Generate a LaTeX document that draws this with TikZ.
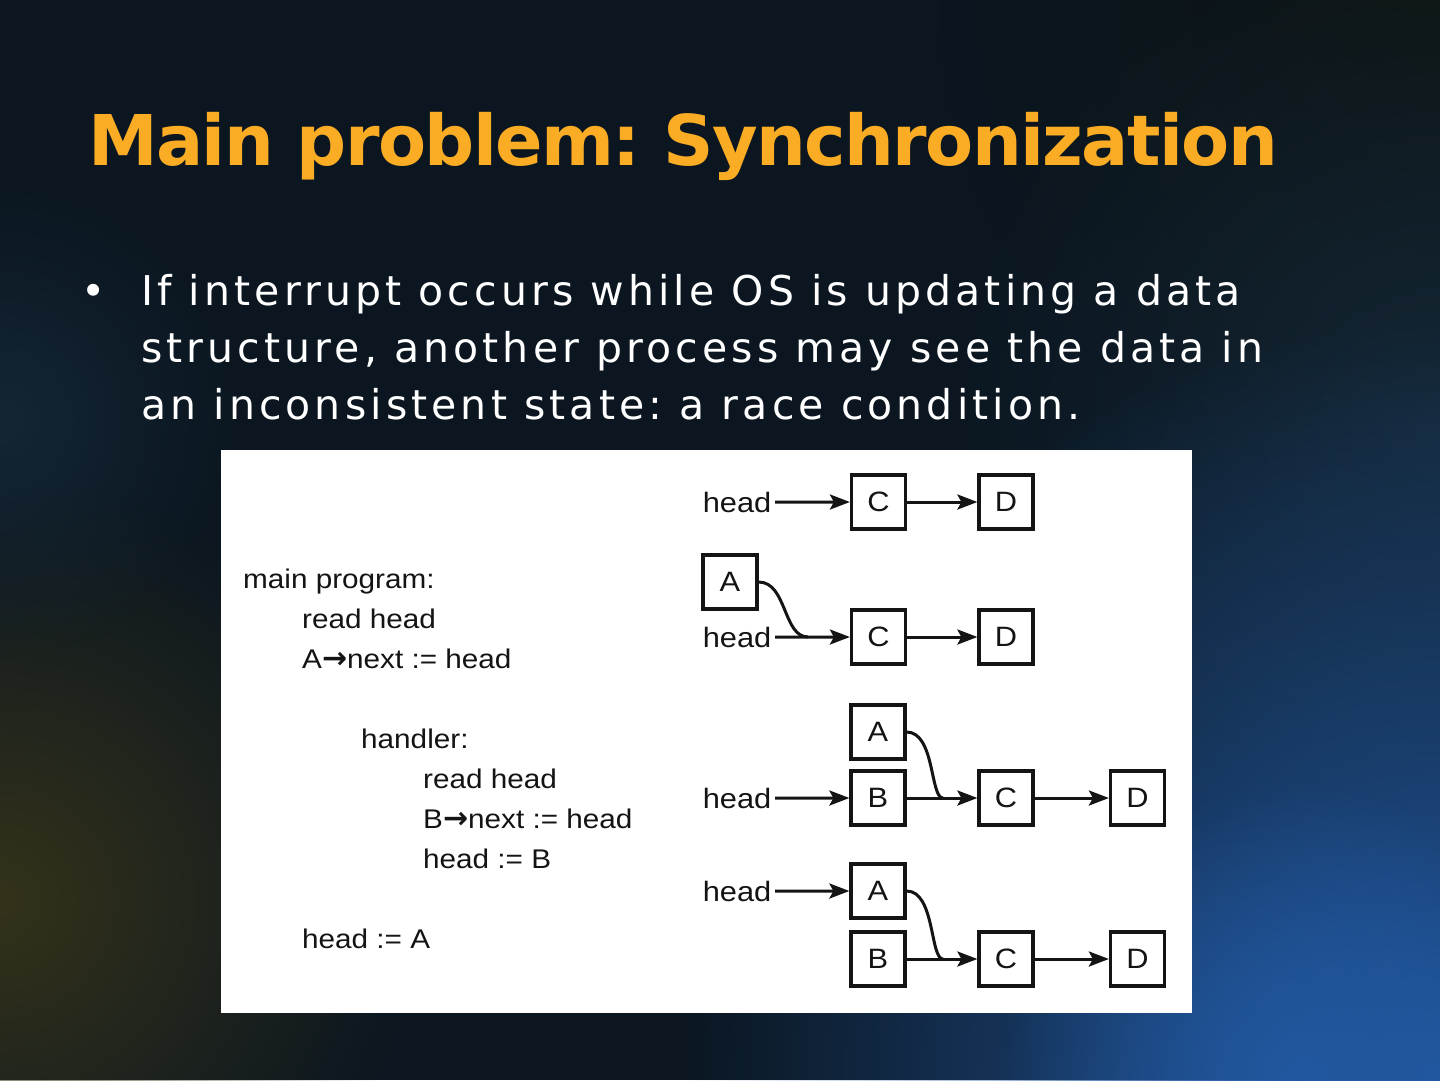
\documentclass[tikz,border=0pt]{standalone}
\usepackage{fontspec}
\setmainfont{DejaVu Sans}
\newfontfamily\titlefont[LetterSpace=-2.3]{DejaVu Sans Bold}
\newfontfamily\bodyfont[LetterSpace=10]{DejaVu Sans}
\newfontfamily\codefont[FakeStretch=1.1]{Liberation Sans}
\newfontfamily\arrowfont{DejaVu Sans Bold}
\frenchspacing
\usetikzlibrary{arrows.meta,fadings}
\definecolor{bg}{RGB}{11,22,32}
\definecolor{ttl}{RGB}{250,172,36}
\definecolor{ink}{RGB}{20,20,20}
\definecolor{glowblue}{RGB}{34,88,160}
\definecolor{glowbrown}{RGB}{52,50,26}
\definecolor{glowteal}{RGB}{20,38,52}
\definecolor{glowdark}{RGB}{14,20,18}
\tikzfading[name=glow, inner color=transparent!0, outer color=transparent!100]
\newcommand{\rarr}{{\arrowfont\fontsize{30}{32}\selectfont →}}
\begin{document}
\begin{tikzpicture}[x=1pt,y=-1pt,
  title/.style={font=\titlefont\fontsize{70}{80}\selectfont, text=ttl, anchor=base west, inner sep=0},
  body/.style={font=\bodyfont\fontsize{41}{57}\selectfont, text=white, anchor=base west, inner sep=0},
  code/.style={font=\codefont\fontsize{27}{32}\selectfont, text=ink, anchor=base west, inner sep=0},
  headlbl/.style={font=\codefont\fontsize{28}{32}\selectfont, text=ink, anchor=base east, inner xsep=3.5pt, inner ysep=0},
  lbox/.style={draw=ink, line width=3.2pt, minimum width=54pt, minimum height=54pt, inner sep=0,
               font=\codefont\fontsize{28}{32}\selectfont, text=ink},
  arr/.style={draw=ink, line width=3pt, -{Stealth[length=20pt,width=15pt,inset=4pt]}},
  link/.style={draw=ink, line width=3pt}
]
\useasboundingbox (0,0) rectangle (1440,1080);
% background
\fill[bg] (0,0) rectangle (1440,1080);
\fill[glowdark, path fading=glow] (1440,0) circle (500);
\fill[glowteal, path fading=glow] (1440,420) circle (500);
\fill[glowbrown, path fading=glow] (0,900) circle (420);
\fill[glowteal, path fading=glow] (0,420) circle (240);
\fill[glowblue, path fading=glow] (1440,1080) circle (760);
\fill[glowblue, path fading=glow] (1300,1080) circle (300);

% title and bullet text
\node[title] (ttl) at (88,165) {Main problem: Synchronization};
\node[body, font=\fontsize{41}{57}\selectfont] (bul) at (81,305) {•};
\node[body] (l1) at (141,305) {If interrupt occurs while OS is updating a data};
\node[body] (l2) at (141,362) {structure, another process may see the data in};
\node[body] (l3) at (141,419) {an inconsistent state: a race condition.};

% white figure panel
\fill[white] (221,450) rectangle (1192,1013);

% code
\node[code] (c1) at (243,588) {main program:};
\node[code] (c2) at (302,628) {read head};
\node[code] (c3) at (302,668) {A\rarr next := head};
\node[code] (c4) at (361,748) {handler:};
\node[code] (c5) at (423,788) {read head};
\node[code] (c6) at (423,828) {B\rarr next := head};
\node[code] (c7) at (423,868) {head := B};
\node[code] (c8) at (302,948) {head := A};

% row 1
\node[headlbl] (h1) at (775,512) {head};
\node[lbox] (r1c) at (878.5,502) {C};
\node[lbox] (r1d) at (1006,502) {D};
\draw[arr] (h1.east) -- (r1c.west);
\draw[arr] (r1c.east) -- (r1d.west);

% row 2
\node[lbox] (r2a) at (730,582) {A};
\node[headlbl] (h2) at (775,647) {head};
\node[lbox] (r2c) at (878.5,637) {C};
\node[lbox] (r2d) at (1006,637) {D};
\coordinate (j2) at (808,637);
\draw[arr] (h2.east) -- (r2c.west);
\draw[arr] (r2c.east) -- (r2d.west);
\draw[link] (r2a.east) .. controls (787,582) and (783,637) .. (j2);

% row 3
\node[lbox] (r3a) at (878,732) {A};
\node[lbox] (r3b) at (878,798) {B};
\node[headlbl] (h3) at (775,808) {head};
\node[lbox] (r3c) at (1006,798) {C};
\node[lbox] (r3d) at (1137.5,798) {D};
\coordinate (j3) at (943,798);
\draw[arr] (h3.east) -- (r3b.west);
\draw[arr] (r3b.east) -- (r3c.west);
\draw[arr] (r3c.east) -- (r3d.west);
\draw[link] (r3a.east) .. controls (935,732) and (930,798) .. (j3);

% row 4
\node[lbox] (r4a) at (878,891) {A};
\node[lbox] (r4b) at (878,959) {B};
\node[headlbl] (h4) at (775,901) {head};
\node[lbox] (r4c) at (1006,959) {C};
\node[lbox] (r4d) at (1137.5,959) {D};
\coordinate (j4) at (943,959);
\draw[arr] (h4.east) -- (r4a.west);
\draw[arr] (r4b.east) -- (r4c.west);
\draw[arr] (r4c.east) -- (r4d.west);
\draw[link] (r4a.east) .. controls (935,891) and (930,959) .. (j4);
\end{tikzpicture}
\end{document}
